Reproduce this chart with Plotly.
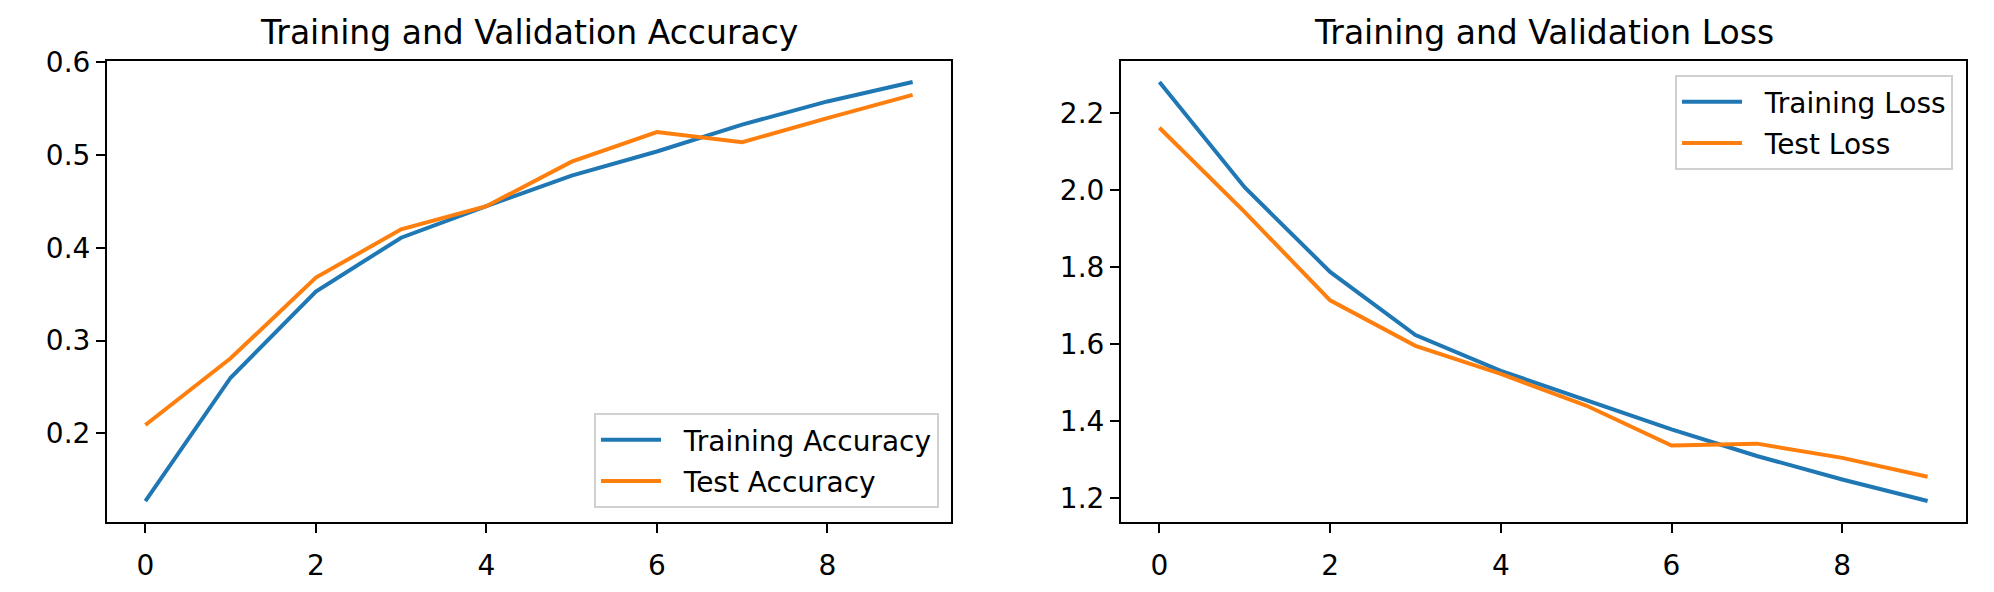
import plotly.graph_objects as go
from plotly.subplots import make_subplots

# history
epochs = list(range(10))
train_acc = [0.127, 0.260, 0.353, 0.411, 0.445, 0.478, 0.504, 0.533, 0.558, 0.579]
test_acc = [0.209, 0.281, 0.368, 0.420, 0.445, 0.493, 0.525, 0.514, 0.540, 0.565]
train_loss = [2.280, 2.006, 1.787, 1.623, 1.530, 1.455, 1.378, 1.309, 1.248, 1.192]
test_loss = [2.161, 1.942, 1.713, 1.595, 1.522, 1.440, 1.336, 1.341, 1.304, 1.255]

acc_ticks = [0.2, 0.3, 0.4, 0.5, 0.6]
loss_ticks = [1.2, 1.4, 1.6, 1.8, 2.0, 2.2]
epoch_ticks = [0, 2, 4, 6, 8]

BLUE = "#1f77b4"
ORANGE = "#ff7f0e"
FONT = "DejaVu Sans"
W, H = 1994, 592
GAP = "\u00a0\u00a0"  # matplotlib leaves more room between handle and label


def padded(*series, frac=0.05):
    # same 5% auto margin matplotlib puts around the data
    lo = min(min(s) for s in series)
    hi = max(max(s) for s in series)
    pad = (hi - lo) * frac
    return [lo - pad, hi + pad]


fig = make_subplots(rows=1, cols=2)

fig.add_trace(go.Scatter(x=epochs, y=train_acc, mode="lines", name=GAP + "Training Accuracy",
                         line=dict(color=BLUE, width=4), legend="legend",
                         legendgroup="a1"), row=1, col=1)
fig.add_trace(go.Scatter(x=epochs, y=test_acc, mode="lines", name=GAP + "Test Accuracy",
                         line=dict(color=ORANGE, width=4), legend="legend",
                         legendgroup="a2"), row=1, col=1)
fig.add_trace(go.Scatter(x=epochs, y=train_loss, mode="lines", name=GAP + "Training Loss",
                         line=dict(color=BLUE, width=4), legend="legend2",
                         legendgroup="l1"), row=1, col=2)
fig.add_trace(go.Scatter(x=epochs, y=test_loss, mode="lines", name=GAP + "Test Loss",
                         line=dict(color=ORANGE, width=4), legend="legend2",
                         legendgroup="l2"), row=1, col=2)

axis_style = dict(
    showline=True, mirror=True, linecolor="black", linewidth=2,
    ticks="outside", ticklen=9, tickwidth=2, tickcolor="black",
    showgrid=False, zeroline=False, automargin=False,
    tickfont=dict(family=FONT, size=28, color="black"),
)

x_range = padded(epochs)
dom_y = [1 - 522 / H, 1 - 61 / H]
dom_x1 = [107 / W, 951 / W]
dom_x2 = [1121 / W, 1966 / W]

fig.update_xaxes(axis_style, range=x_range, tickvals=epoch_ticks, ticklabelstandoff=8)
fig.update_yaxes(axis_style, ticklabelstandoff=0)
fig.update_layout(
    xaxis=dict(domain=dom_x1),
    xaxis2=dict(domain=dom_x2),
    yaxis=dict(domain=dom_y, range=padded(train_acc, test_acc),
               tickvals=acc_ticks, tickformat=".1f"),
    yaxis2=dict(domain=dom_y, range=padded(train_loss, test_loss),
                tickvals=loss_ticks, tickformat=".1f"),
)

legend_style = dict(
    bgcolor="rgba(255,255,255,0.8)", bordercolor="#d0d0d0", borderwidth=2,
    font=dict(family=FONT, size=28, color="black"), tracegroupgap=2,
    itemwidth=60,
)
fig.update_layout(
    legend=dict(legend_style, x=939 / W, xanchor="right", y=1 - 508 / H, yanchor="bottom"),
    legend2=dict(legend_style, x=1953 / W, xanchor="right", y=1 - 75 / H, yanchor="top"),
)

for dom, title in [(dom_x1, "Training and Validation Accuracy"),
                   (dom_x2, "Training and Validation Loss")]:
    fig.add_annotation(text=title, x=(dom[0] + dom[1]) / 2, y=1 - 33 / H,
                       xref="paper", yref="paper", xanchor="center", yanchor="middle",
                       showarrow=False, font=dict(family=FONT, size=33, color="black"))

fig.update_layout(
    width=W, height=H,
    margin=dict(l=0, r=0, t=0, b=0),
    paper_bgcolor="white", plot_bgcolor="white",
    font=dict(family=FONT, color="black"),
)

# drop the browser's default 8px body margin so the figure fills the window
fig.write_html("out.html", config={"displayModeBar": False},
               post_script="document.body.style.margin = '0';")
